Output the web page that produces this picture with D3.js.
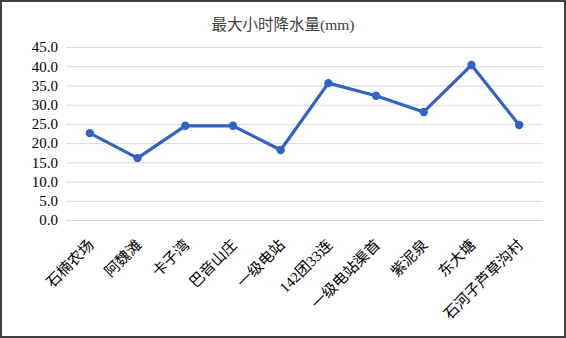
<!DOCTYPE html>
<html lang="zh">
  <head>
    <meta charset="utf-8" />
    <title>最大小时降水量</title>
    <script src="https://cdnjs.cloudflare.com/ajax/libs/d3/7.8.5/d3.min.js"></script>
    <style type="text/css">
      html, body { margin: 0; padding: 0; background: #fff; }
      svg { display: block; }
      text { font-family: "Liberation Serif", "Noto Sans CJK SC", serif; fill: #404040; }
      .title { font-size: 15.5px; }
      .tick text { font-size: 15px; fill: #000; }
      .grid line { stroke: #d9d9d9; stroke-width: 1; }
    </style>
  </head>
  <body>
    <div id="chart"></div>
    <script>
      // data
      const stations = ["石楠农场", "阿魏滩", "卡子湾", "巴音山庄", "一级电站", "142团33连", "一级电站渠首", "紫泥泉", "东大塘", "石河子芦草沟村"];
      const rainMax = [22.6, 16.1, 24.5, 24.5, 18.2, 35.6, 32.3, 28.1, 40.3, 24.7];
      const yTicks = [0, 5, 10, 15, 20, 25, 30, 35, 40, 45];

      const width = 566, height = 338;
      const margin = { top: 47, right: 23, bottom: 118, left: 66 };

      const svg = d3.select("#chart").append("svg")
        .attr("width", width).attr("height", height);

      // outer frame
      svg.append("rect")
        .attr("x", 1).attr("y", 1)
        .attr("width", width - 2).attr("height", height - 2)
        .attr("fill", "#fff").attr("stroke", "#404040").attr("stroke-width", 2);

      svg.append("text").attr("class", "title")
        .attr("x", 283).attr("y", 30)
        .attr("text-anchor", "middle")
        .text("最大小时降水量(mm)");

      const x = d3.scaleBand().domain(stations)
        .range([margin.left, width - margin.right]);
      const y = d3.scaleLinear().domain([0, 45])
        .range([height - margin.bottom, margin.top]);

      // grid + y labels
      const yAxis = svg.append("g")
        .attr("class", "grid")
        .attr("transform", `translate(${margin.left},0)`)
        .call(d3.axisLeft(y).tickValues(yTicks).tickFormat(d3.format(".1f"))
          .tickSize(-(width - margin.left - margin.right)).tickPadding(8));
      yAxis.select(".domain").remove();

      // x labels
      const xAxis = svg.append("g")
        .attr("transform", `translate(0,${height - margin.bottom})`)
        .call(d3.axisBottom(x).tickSize(0).tickPadding(0));
      xAxis.select(".domain").remove();
      xAxis.selectAll("text")
        .attr("text-anchor", "end")
        .attr("dy", "0")
        .attr("transform", "translate(5,26) rotate(-45)");

      const cx = (d) => x(d) + x.bandwidth() / 2;
      const line = d3.line()
        .x((d, i) => cx(stations[i]))
        .y((d) => y(d));

      svg.append("path")
        .datum(rainMax)
        .attr("fill", "none")
        .attr("stroke", "#3163c4")
        .attr("stroke-width", 3.2)
        .attr("stroke-linejoin", "round")
        .attr("d", line);

      svg.selectAll("circle.pt")
        .data(rainMax)
        .join("circle")
        .attr("class", "pt")
        .attr("cx", (d, i) => cx(stations[i]))
        .attr("cy", (d) => y(d))
        .attr("r", 4.2)
        .attr("fill", "#3163c4");
    </script>
  </body>
</html>
